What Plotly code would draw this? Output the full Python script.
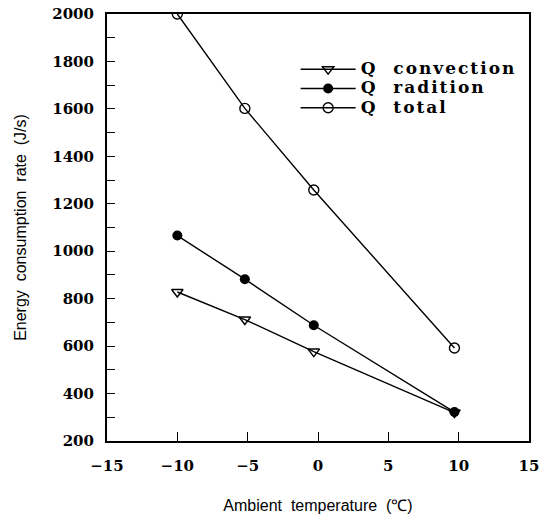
import plotly.graph_objects as go

temps = [-10, -5.2, -0.3, 9.7]
q_convection = [828, 712, 577, 320]
q_radiation = [1066, 882, 688, 322]
q_total = [2000, 1602, 1258, 592]

series_names = ["Q  convection", "Q  radition", "Q  total"]
x_ticks = [-15, -10, -5, 0, 5, 10, 15]
y_ticks = [200, 400, 600, 800, 1000, 1200, 1400, 1600, 1800, 2000]


def big(s):
    return ('<span style="font-size:17px;letter-spacing:2px">'
            + s.replace(" ", "&nbsp;") + "</span>")


fig = go.Figure()
line = dict(color="black", width=1.4)
fig.add_trace(go.Scatter(x=temps, y=q_convection, mode="lines+markers", name=big(series_names[0]),
                         line=line, marker=dict(symbol="triangle-down-open", size=10, color="black",
                                                line=dict(width=1.4))))
fig.add_trace(go.Scatter(x=temps, y=q_radiation, mode="lines+markers", name=big(series_names[1]),
                         line=line, marker=dict(symbol="circle", size=10, color="black")))
fig.add_trace(go.Scatter(x=temps, y=q_total, mode="lines+markers", name=big(series_names[2]),
                         line=line, marker=dict(symbol="circle-open", size=10, color="black",
                                                line=dict(width=1.4))))

tickfont = dict(family="DejaVu Serif", size=15, color="black", weight="bold")
fig.update_xaxes(range=[-15, 15], tickvals=x_ticks, ticktext=[str(v).replace("-", "\u2212") for v in x_ticks],
                 ticks="inside", ticklen=9, tickwidth=1.3, tickcolor="black", automargin=False,
                 showline=True, linecolor="black", linewidth=2, mirror=True,
                 showgrid=False, zeroline=False, tickfont=tickfont, ticklabelstandoff=10,
                 title=dict(text="Ambient  temperature  (\u2103)", standoff=26,
                            font=dict(family="Liberation Sans", size=16, color="black")))
fig.update_yaxes(range=[200, 2000], tickvals=y_ticks, automargin=False,
                 ticks="inside", ticklen=8, tickwidth=1.3, tickcolor="black",
                 minor=dict(dtick=100, ticks="inside", ticklen=8, tickwidth=1.3, tickcolor="black", showgrid=False),
                 showline=True, linecolor="black", linewidth=2, mirror=True,
                 showgrid=False, zeroline=False, tickfont=tickfont, ticklabelstandoff=8,
                 title=dict(text="Energy  consumption  rate  (J/s)", standoff=22,
                            font=dict(family="Liberation Sans", size=16, color="black")))
fig.update_layout(width=550, height=522, margin=dict(l=107, r=21, t=14, b=81),
                  paper_bgcolor="white", plot_bgcolor="white",
                  showlegend=True,
                  legend=dict(x=0.447, y=0.905, xanchor="left", yanchor="top", bgcolor="rgba(0,0,0,0)",
                              font=dict(family="DejaVu Serif", size=12.5, color="black", weight="bold"),
                              itemwidth=55, tracegroupgap=0, traceorder="normal"))
fig.write_html("out.html")
